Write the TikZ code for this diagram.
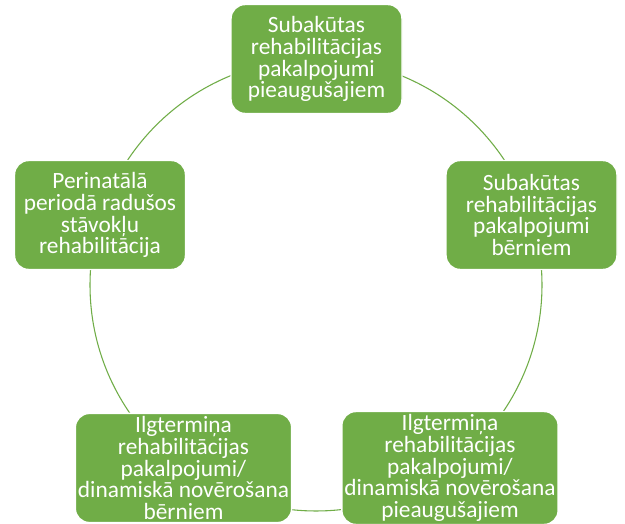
\documentclass[tikz,border=0pt]{standalone}
\usepackage{fontspec}
\setmainfont{Carlito}
\definecolor{boxgreen}{HTML}{70AD47}
\tikzset{
  stepbox/.style = {
    draw=white, line width=1.1pt, fill=boxgreen, rounded corners=10.5pt,
    text=white, align=center, inner sep=2pt,
    font=\fontsize{17.5}{16.4}\selectfont
  },
  small/.style = {stepbox, minimum width=128.25pt, minimum height=81.75pt},
  wide/.style  = {stepbox, minimum width=162pt, minimum height=81pt}
}

\begin{document}
\begin{tikzpicture}[x=0.75pt,y=0.75pt]
  \clip (0,0) rectangle (625,524);
  \fill[white] (0,0) rectangle (625,524);
  \coordinate (c) at (316,239);
  \draw[boxgreen,line width=0.8pt] (c) circle (226);
  \node[small] (top) at (316.5,465) {Subakūtas\\rehabilitācijas\\pakalpojumi\\pieaugušajiem};
  \node[small] (right) at (531.5,309) {Subakūtas\\rehabilitācijas\\pakalpojumi\\bērniem};
  \node[small] (left) at (100,309) {Perinatālā\\periodā radušos\\stāvokļu\\rehabilitācija};
  \node[wide] (botright) at (450,56) {Ilgtermiņa\\rehabilitācijas\\pakalpojumi/\\dinamiskā novērošana\\pieaugušajiem};
  \node[wide] (botleft) at (183.5,56) {Ilgtermiņa\\rehabilitācijas\\pakalpojumi/\\dinamiskā novērošana\\bērniem};
\end{tikzpicture}
\end{document}
